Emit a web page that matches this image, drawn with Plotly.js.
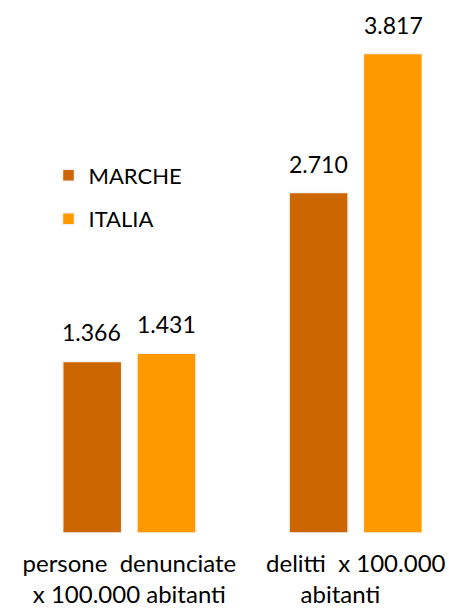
<!DOCTYPE html>
<html>
<head>
<meta charset="utf-8">
<script src="https://cdn.plot.ly/plotly-3.0.1.min.js"></script>
<style>html,body{margin:0;padding:0;background:#fff;}#chart{width:449px;height:610px;}</style>
</head>
<body>
<div id="chart"></div>
<script>
var categories = ["persone\u00a0\u00a0denunciate<br>x 100.000 abitanti", "delitti\u00a0\u00a0x 100.000<br>abitanti\u00a0\u00a0\u00a0\u00a0\u00a0"];
var seriesNames = ["MARCHE", "ITALIA"];
var marcheValues = [1366, 2710];
var italiaValues = [1431, 3817];
var seriesColors = ["#CC6600", "#FF9900"];

function fmt(v) { return String(v).replace(/\B(?=(\d{3})+(?!\d))/g, "."); }

var FONT = "Lato, 'Open Sans', sans-serif";
var allValues = [marcheValues, italiaValues];
var traces = allValues.map(function (vals, i) {
  return {
    type: "bar",
    name: seriesNames[i],
    x: categories,
    y: vals,
    legendgroup: "g" + i,
    marker: { color: seriesColors[i], line: { color: "#f4f4f4", width: 1.5 } },
    hoverinfo: "none"
  };
});

var offset = 0.165;
var annotations = [];
allValues.forEach(function (vals, i) {
  vals.forEach(function (v, j) {
    annotations.push({
      xref: "x", yref: "y",
      x: j + (i === 0 ? -offset : offset),
      y: v,
      text: fmt(v),
      showarrow: false,
      yanchor: "bottom",
      yshift: 13,
      font: { family: FONT, size: 23, color: "#000" }
    });
  });
});

var layout = {
  width: 449, height: 610,
  margin: { l: 0, r: 0, t: 10, b: 77 },
  paper_bgcolor: "#fff", plot_bgcolor: "#fff",
  barmode: "group",
  bargap: 0.344,
  bargroupgap: 0.206,
  separators: ",.",
  font: { family: FONT, size: 22, color: "#000" },
  xaxis: {
    type: "category",
    range: [-0.5713, 1.4119],
    showgrid: false, zeroline: false, showline: false,
    ticks: "", ticklabelstandoff: 14,
    tickfont: { family: FONT, size: 24, color: "#000" },
    fixedrange: true
  },
  yaxis: {
    range: [0, 4164],
    showgrid: false, zeroline: false, showline: false,
    showticklabels: false, ticks: "", fixedrange: true
  },
  showlegend: true,
  legend: {
    x: 0.108, xanchor: "left",
    y: 0.724, yanchor: "top",
    bgcolor: "rgba(0,0,0,0)",
    font: { family: FONT, size: 22, color: "#000" },
    tracegroupgap: 12,
    traceorder: "grouped"
  },
  annotations: annotations
};

Plotly.newPlot("chart", traces, layout, { displayModeBar: false, staticPlot: true });
</script>
</body>
</html>
